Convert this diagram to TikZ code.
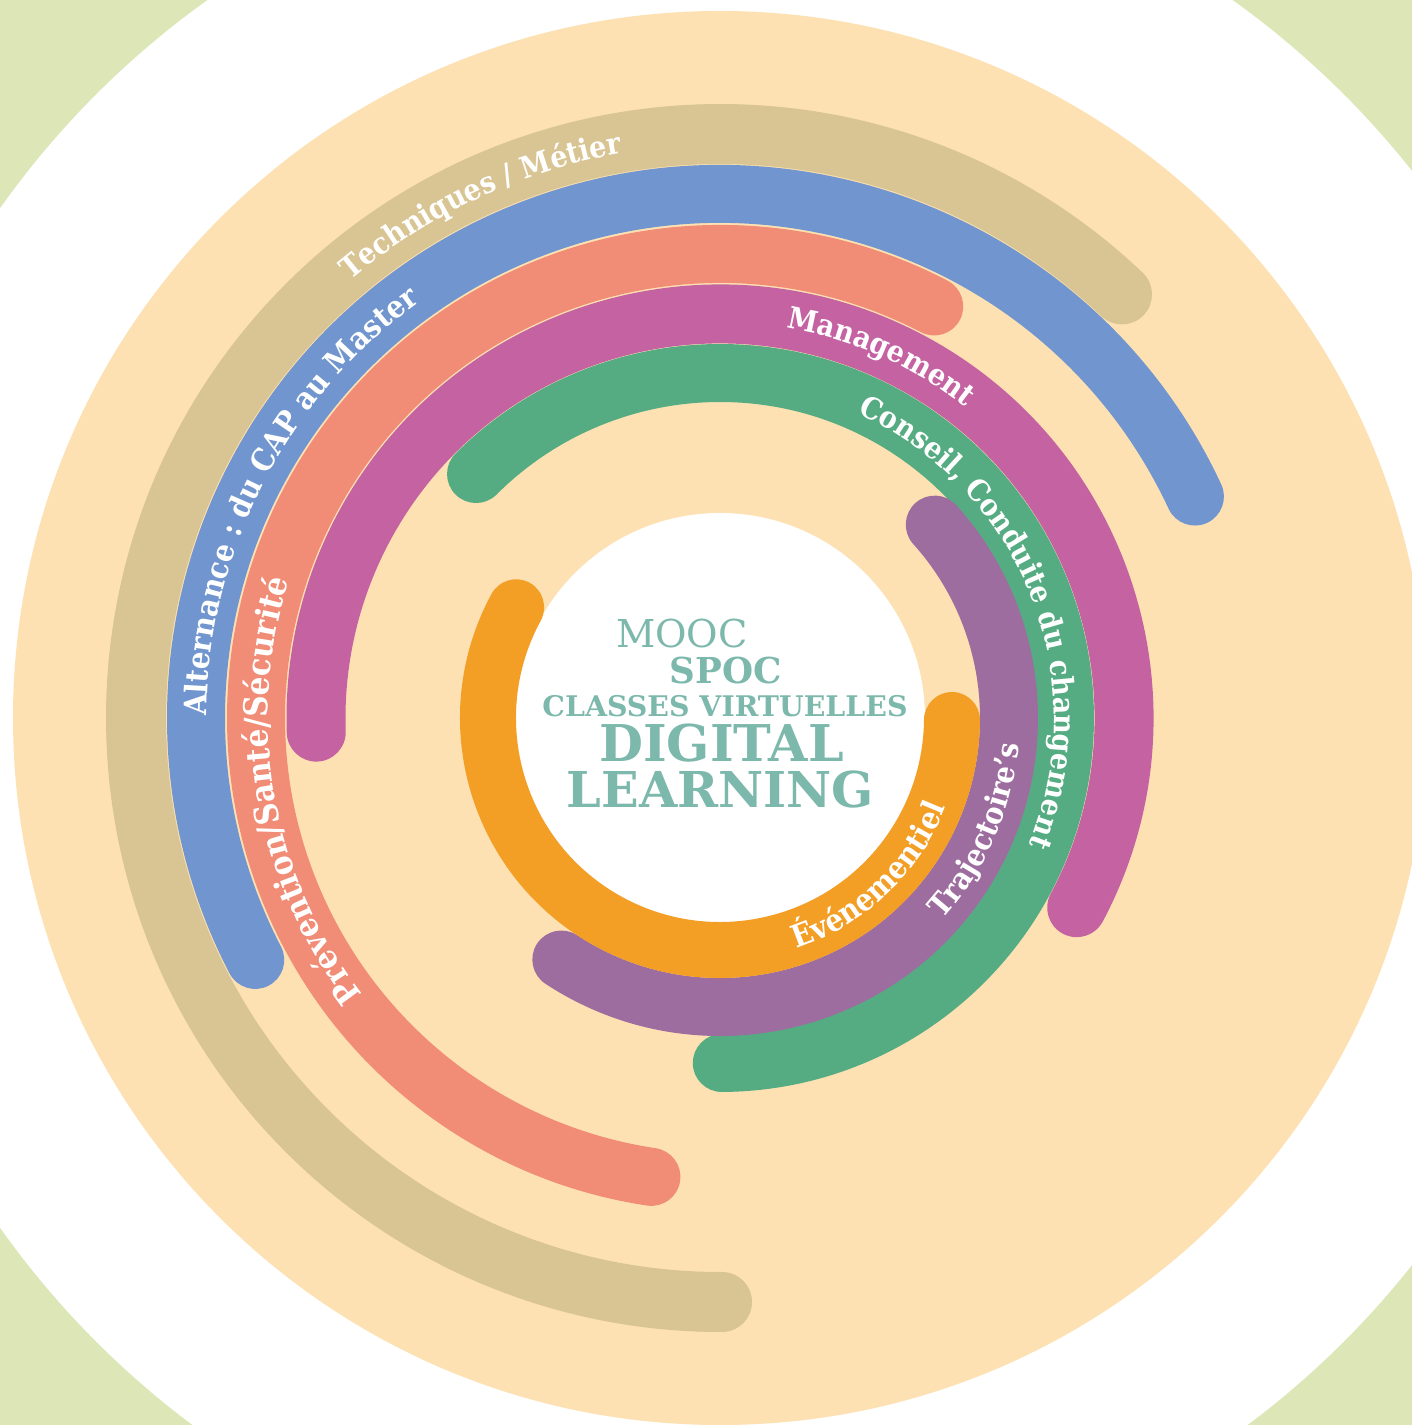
\documentclass[tikz,border=0pt]{standalone}
\usepackage{fontspec}
\setmainfont{DejaVu Serif}
\newfontfamily\lblfont[FakeStretch=0.9]{DejaVu Serif}
\usetikzlibrary{decorations.text,calc}
\definecolor{bggreen}{HTML}{DCE6B7}
\definecolor{peach}{HTML}{FDE1B3}
\definecolor{tancol}{HTML}{D9C593}
\definecolor{bluecol}{HTML}{7195CE}
\definecolor{salmoncol}{HTML}{F18C76}
\definecolor{magentacol}{HTML}{C462A2}
\definecolor{greencol}{HTML}{55AC82}
\definecolor{purplecol}{HTML}{9E6D9F}
\definecolor{orangecol}{HTML}{F39E25}
\definecolor{tealtext}{HTML}{7DB8AD}
\newcommand\arclbl[1]{\lblfont\fontsize{#1}{#1}\selectfont\bfseries}
\begin{document}
\begin{tikzpicture}[x=1pt,y=1pt,
  ring/.style={line width=58pt,line cap=round},
  arclabel/.style={decorate,decoration={text along path,text align=center,text color=white,text={#1}}},
  centertext/.style={anchor=base,text=tealtext,inner sep=0pt}]
\useasboundingbox (0,0) rectangle (1412,1425);
\clip (0,0) rectangle (1412,1425);
\coordinate (C) at (720,707);
\fill[bggreen] (0,0) rectangle (1412,1425);
\fill[white] (C) circle[radius=882];
\fill[peach] (C) circle[radius=707];
\fill[white] (C) circle[radius=205];
% rings
\draw[ring,line width=60pt,tancol] ($(C)+(46.5:584)$) arc[start angle=46.5,end angle=270.2,radius=584];
\draw[ring,bluecol] ($(C)+(25:524)$) arc[start angle=25,end angle=207.5,radius=524];
\draw[ring,salmoncol] ($(C)+(62.5:464)$) arc[start angle=62.5,end angle=261.5,radius=464];
\draw[ring,line width=59pt,magentacol] ($(C)+(-28:404)$) arc[start angle=-28,end angle=182,radius=404];
\draw[ring,greencol] ($(C)+(-89.7:345)$) arc[start angle=-89.7,end angle=135,radius=345];
\draw[ring,purplecol] ($(C)+(-123.3:289)$) arc[start angle=-123.3,end angle=42,radius=289];
\draw[ring,line width=56pt,orangecol] ($(C)+(151.5:232)$) arc[start angle=151.5,end angle=359.5,radius=232];
% ring labels
\path[arclabel={|\arclbl{30}|Techniques / Métier}] ($(C)+(155:573)$) arc[start angle=155,end angle=75,radius=573];
\path[arclabel={|\arclbl{31}|Alternance : du CAP au Master}] ($(C)+(197.8:513)$) arc[start angle=197.8,end angle=107.8,radius=513];
\path[arclabel={|\arclbl{33}|Prévention/Santé/Sécurité}] ($(C)+(235:452)$) arc[start angle=235,end angle=145,radius=452];
\path[arclabel={|\arclbl{30}|Management}] ($(C)+(106:396)$) arc[start angle=106,end angle=26,radius=396];
\path[arclabel={|\arclbl{30}|Conseil, Conduite du changement}] ($(C)+(91.7:334)$) arc[start angle=91.7,end angle=-48.3,radius=334];
\path[arclabel={|\arclbl{30.5}|Trajectoire’s}] ($(C)+(-63.6:300)$) arc[start angle=-63.6,end angle=16.4,radius=300];
\path[arclabel={|\arclbl{31}|Événementiel}] ($(C)+(-96.6:243)$) arc[start angle=-96.6,end angle=3.4,radius=243];
% centre text
\node[centertext,font=\fontsize{38.4}{38.4}\selectfont] (mooc) at (682,777) {MOOC};
\node[centertext,font=\fontsize{35.7}{35.7}\selectfont\bfseries] (spoc) at (726,741) {SPOC};
\node[centertext,font=\fontsize{28.4}{28.4}\selectfont\bfseries] (classes) at (725,708) {CLASSES VIRTUELLES};
\node[centertext,font=\fontsize{50.7}{50.7}\selectfont\bfseries] (digital) at (721.5,663) {DIGITAL};
\node[centertext,font=\fontsize{49.4}{49.4}\selectfont\bfseries] (learning) at (720.5,617) {LEARNING};
\end{tikzpicture}
\end{document}
